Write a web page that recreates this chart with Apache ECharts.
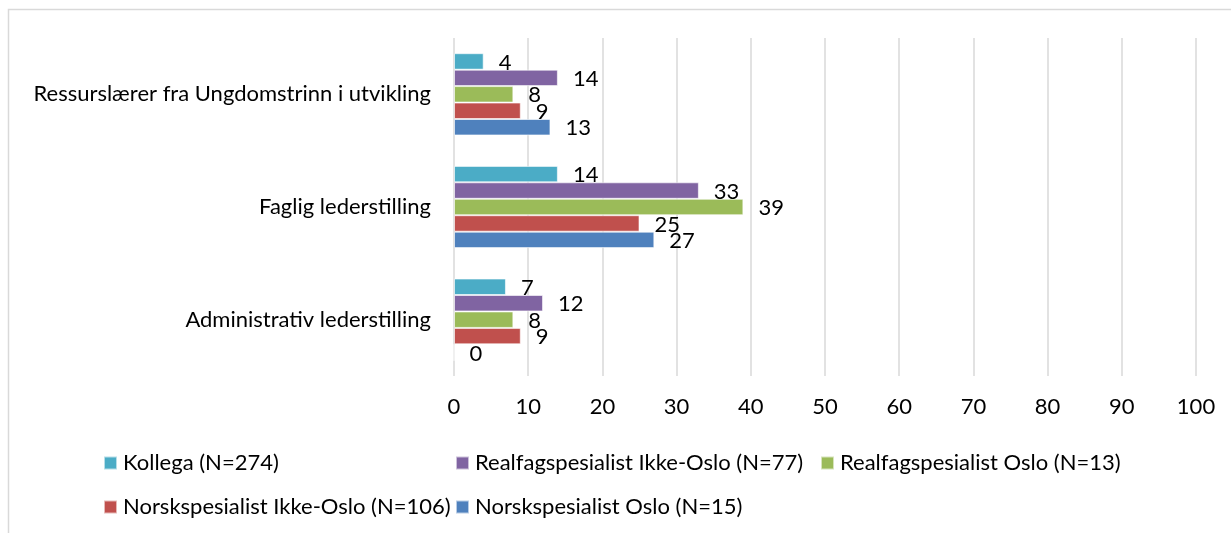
<!DOCTYPE html>
<html>
<head>
<meta charset="utf-8">
<script src="https://cdn.jsdelivr.net/npm/echarts@6/dist/echarts.min.js"></script>
<style>
html,body{margin:0;padding:0;background:#fff;}
#main{width:1231px;height:533px;}
</style>
</head>
<body>
<div id="main"></div>
<script>
const categories = ['Ressurslærer fra Ungdomstrinn i utvikling', 'Faglig lederstilling', 'Administrativ lederstilling'];
const seriesNames = ['Kollega (N=274)', 'Realfagspesialist Ikke-Oslo (N=77)', 'Realfagspesialist Oslo (N=13)', 'Norskspesialist Ikke-Oslo (N=106)', 'Norskspesialist Oslo (N=15)'];
const kollega = [4, 14, 7];
const realfagIkkeOslo = [14, 33, 12];
const realfagOslo = [8, 39, 8];
const norskIkkeOslo = [9, 25, 9];
const norskOslo = [13, 27, 0];
const xMin = 0, xMax = 100, xStep = 10;

const seriesValues = [kollega, realfagIkkeOslo, realfagOslo, norskIkkeOslo, norskOslo];
const colors = ['#4bacc6', '#8064a2', '#9bbb59', '#c0504d', '#4f81bd'];
const FONT = 'Lato';
const FS = 22;

const chart = echarts.init(document.getElementById('main'), null, {renderer: 'canvas'});

const legendPos = [
  {left: 103, top: 452},
  {left: 455, top: 452},
  {left: 820, top: 452},
  {left: 103, top: 496},
  {left: 455, top: 496}
];

const option = {
  animation: false,
  color: colors,
  textStyle: {fontFamily: FONT},
  graphic: [{
    type: 'rect',
    shape: {x: 8.5, y: 9.5, width: 1400, height: 700},
    style: {fill: 'none', stroke: '#d9d9d9', lineWidth: 1.5},
    silent: true
  }],
  grid: {left: 454, right: 35, top: 38, bottom: 157, containLabel: false},
  xAxis: {
    type: 'value', min: xMin, max: xMax, interval: xStep,
    axisLine: {show: false}, axisTick: {show: false},
    splitLine: {show: true, lineStyle: {color: '#d9d9d9', width: 1.5}},
    axisLabel: {color: '#000', fontFamily: FONT, fontSize: FS, margin: 20}
  },
  yAxis: {
    type: 'category', data: categories, inverse: true,
    axisLine: {show: false}, axisTick: {show: false},
    axisLabel: {color: '#000', fontFamily: FONT, fontSize: FS, margin: 23}
  },
  legend: seriesNames.map((n, i) => ({
    data: [n], left: legendPos[i].left, top: legendPos[i].top,
    orient: 'horizontal', icon: 'rect', itemWidth: 13, itemHeight: 13,
    padding: 0, itemGap: 0,
    textStyle: {color: '#000', fontFamily: FONT, fontSize: FS, padding: [0, 0, 0, 1]},
    selectedMode: false
  })),
  series: seriesNames.map((n, i) => ({
    name: n, type: 'bar', data: seriesValues[i],
    barGap: '0%', barCategoryGap: '27%',
    itemStyle: {color: colors[i], borderColor: 'rgba(255,255,255,0.6)', borderWidth: 1},
    label: {show: true, position: 'right', distance: 15, color: '#000', fontFamily: FONT, fontSize: FS, offset: [0, 1]}
  }))
};
chart.setOption(option);
</script>
</body>
</html>
